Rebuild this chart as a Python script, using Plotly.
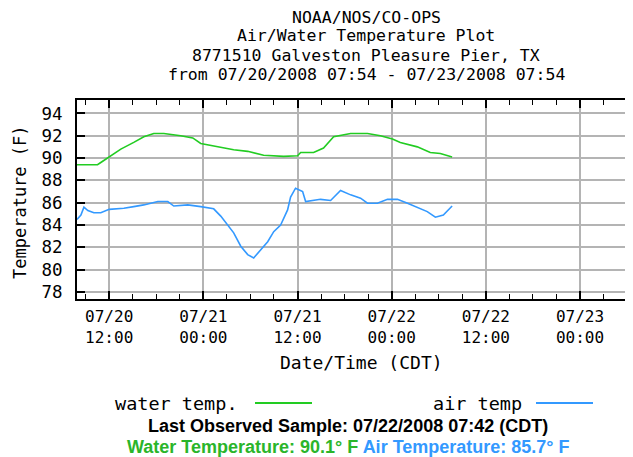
import plotly.graph_objects as go

# ---- data ----
water_time = ["2008-07-20 07:54", "2008-07-20 10:31", "2008-07-20 10:56", "2008-07-20 12:00",
              "2008-07-20 13:29", "2008-07-20 15:08", "2008-07-20 16:25", "2008-07-20 17:41",
              "2008-07-20 18:58", "2008-07-20 21:07", "2008-07-20 22:39", "2008-07-20 23:40",
              "2008-07-21 01:50", "2008-07-21 03:52", "2008-07-21 05:39", "2008-07-21 07:41",
              "2008-07-21 10:14", "2008-07-21 12:00", "2008-07-21 12:24", "2008-07-21 14:03",
              "2008-07-21 15:19", "2008-07-21 16:36", "2008-07-21 18:46", "2008-07-21 20:55",
              "2008-07-21 22:34", "2008-07-22 00:06", "2008-07-22 01:06", "2008-07-22 03:16",
              "2008-07-22 04:55", "2008-07-22 06:12", "2008-07-22 07:42"]
water_temp = [89.4, 89.4, 89.6, 90.1, 90.8, 91.4, 91.9, 92.2, 92.2, 92.0, 91.8, 91.3,
              91.0, 90.75, 90.6, 90.25, 90.15, 90.2, 90.5, 90.5, 90.9, 91.9, 92.2, 92.2,
              92.0, 91.7, 91.4, 91.0, 90.5, 90.4, 90.1]

air_time = ["2008-07-20 07:54", "2008-07-20 08:24", "2008-07-20 08:47", "2008-07-20 09:17",
            "2008-07-20 10:03", "2008-07-20 10:56", "2008-07-20 12:00", "2008-07-20 13:52",
            "2008-07-20 15:08", "2008-07-20 16:25", "2008-07-20 18:12", "2008-07-20 19:28",
            "2008-07-20 20:14", "2008-07-20 22:01", "2008-07-20 23:40", "2008-07-21 01:19",
            "2008-07-21 02:13", "2008-07-21 03:06", "2008-07-21 03:52", "2008-07-21 04:46",
            "2008-07-21 05:39", "2008-07-21 06:25", "2008-07-21 07:18", "2008-07-21 08:12",
            "2008-07-21 08:58", "2008-07-21 09:51", "2008-07-21 10:44", "2008-07-21 11:07",
            "2008-07-21 11:45", "2008-07-21 12:39", "2008-07-21 13:02", "2008-07-21 14:03",
            "2008-07-21 14:56", "2008-07-21 16:13", "2008-07-21 17:29", "2008-07-21 18:46",
            "2008-07-21 20:02", "2008-07-21 20:55", "2008-07-21 22:11", "2008-07-21 23:28",
            "2008-07-22 00:44", "2008-07-22 02:01", "2008-07-22 03:16", "2008-07-22 04:32",
            "2008-07-22 05:34", "2008-07-22 06:35", "2008-07-22 07:42"]
air_temp = [84.5, 84.9, 85.6, 85.3, 85.1, 85.1, 85.4, 85.5, 85.65, 85.8, 86.1, 86.1,
            85.7, 85.8, 85.65, 85.45, 84.8, 84.0, 83.3, 82.1, 81.35, 81.05, 81.8, 82.5,
            83.4, 84.0, 85.35, 86.5, 87.3, 87.0, 86.1, 86.2, 86.3, 86.2, 87.1, 86.7,
            86.4, 85.95, 85.95, 86.3, 86.3, 85.95, 85.6, 85.2, 84.7, 84.9, 85.7]

title_lines = ["NOAA/NOS/CO-OPS", "Air/Water Temperature Plot",
               "8771510 Galveston Pleasure Pier, TX",
               "from 07/20/2008 07:54 - 07/23/2008 07:54"]

# ---- layout geometry (page pixels; the page body has an 8px margin) ----
OFF = 8
W, H = 633 - OFF, 457 - OFF
L, R, T, B = 77, 633, 100, 299          # plot area in page pixels
pw, ph = R - L, B - T

def px(x):
    return (x - L) / pw

def py(y):
    return (B - y) / ph

mono = "DejaVu Sans Mono"
GREEN = "#22cc22"
BLUE = "#3399ff"

fig = go.Figure()
fig.add_trace(go.Scatter(x=water_time, y=water_temp, mode="lines",
                         line=dict(color=GREEN, width=1.6), showlegend=False))
fig.add_trace(go.Scatter(x=air_time, y=air_temp, mode="lines",
                         line=dict(color=BLUE, width=1.6), showlegend=False))

annotations = []
for txt, yy in zip(title_lines, [17, 36, 55, 74]):
    annotations.append(dict(text=txt, x=px(366), y=py(yy), xref="paper", yref="paper",
                            showarrow=False, xanchor="center", yanchor="middle",
                            font=dict(family=mono, size=16.5, color="black")))
annotations.append(dict(text="Date/Time (CDT)", x=px(361), y=py(362), xref="paper", yref="paper",
                        showarrow=False, xanchor="center", yanchor="middle",
                        font=dict(family=mono, size=18, color="black")))
annotations.append(dict(text="Temperature (F)", x=px(20), y=py(202), xref="paper", yref="paper",
                        showarrow=False, textangle=-90, xanchor="center", yanchor="middle",
                        font=dict(family=mono, size=17, color="black")))
annotations.append(dict(text="water temp.", x=px(113), y=py(403), xref="paper", yref="paper",
                        showarrow=False, xanchor="left", yanchor="middle",
                        font=dict(family=mono, size=18.5, color="black")))
annotations.append(dict(text="air temp", x=px(431), y=py(403), xref="paper", yref="paper",
                        showarrow=False, xanchor="left", yanchor="middle",
                        font=dict(family=mono, size=18.5, color="black")))
annotations.append(dict(text="<b>Last Observed Sample: 07/22/2008 07:42 (CDT)</b>",
                        x=px(348), y=py(426), xref="paper", yref="paper",
                        showarrow=False, xanchor="center", yanchor="middle",
                        font=dict(family="Liberation Sans", size=18, color="black")))
annotations.append(dict(text="<b><span style='color:#2ab52a'>Water Temperature: 90.1° F</span> "
                             "<span style='color:#3399ff'>Air Temperature: 85.7° F</span></b>",
                        x=px(348), y=py(447), xref="paper", yref="paper",
                        showarrow=False, xanchor="center", yanchor="middle",
                        font=dict(family="Liberation Sans", size=18, color="black")))

shapes = [
    dict(type="line", xref="paper", yref="paper", x0=px(255), x1=px(312), y0=py(403), y1=py(403),
         line=dict(color=GREEN, width=2)),
    dict(type="line", xref="paper", yref="paper", x0=px(536), x1=px(593), y0=py(403), y1=py(403),
         line=dict(color=BLUE, width=2)),
]

fig.update_layout(
    width=W, height=H,
    margin=dict(l=L - OFF, r=633 - R, t=T - OFF, b=457 - B, pad=0),
    paper_bgcolor="white", plot_bgcolor="white",
    annotations=annotations, shapes=shapes,
    showlegend=False,
)
fig.update_xaxes(
    type="date",
    range=["2008-07-20 07:54", "2008-07-23 06:45"],
    tick0="2008-07-20 00:00", dtick=12 * 3600 * 1000,
    tickformat="%m/%d<br>%H:%M",
    ticks="inside", ticklen=8, tickwidth=2, tickcolor="black",
    showgrid=True, gridcolor="#b4b4b4", gridwidth=2,
    showline=True, linecolor="black", linewidth=2, mirror="allticks",
    minor=dict(dtick=3 * 3600 * 1000, tick0="2008-07-20 00:00", ticks="inside",
               ticklen=5, tickwidth=1, tickcolor="black", showgrid=False),
    tickfont=dict(family=mono, size=16, color="black"),
    ticklabelstandoff=2,
    zeroline=False,
)
fig.update_yaxes(
    range=[77.37, 95.2],
    tick0=78, dtick=2,
    ticks="inside", ticklen=8, tickwidth=2, tickcolor="black",
    showgrid=True, gridcolor="#b4b4b4", gridwidth=2,
    showline=True, linecolor="black", linewidth=2,
    tickfont=dict(family=mono, size=17.5, color="black"),
    ticklabelstandoff=9,
    zeroline=False,
)

fig.write_html("out.html")
